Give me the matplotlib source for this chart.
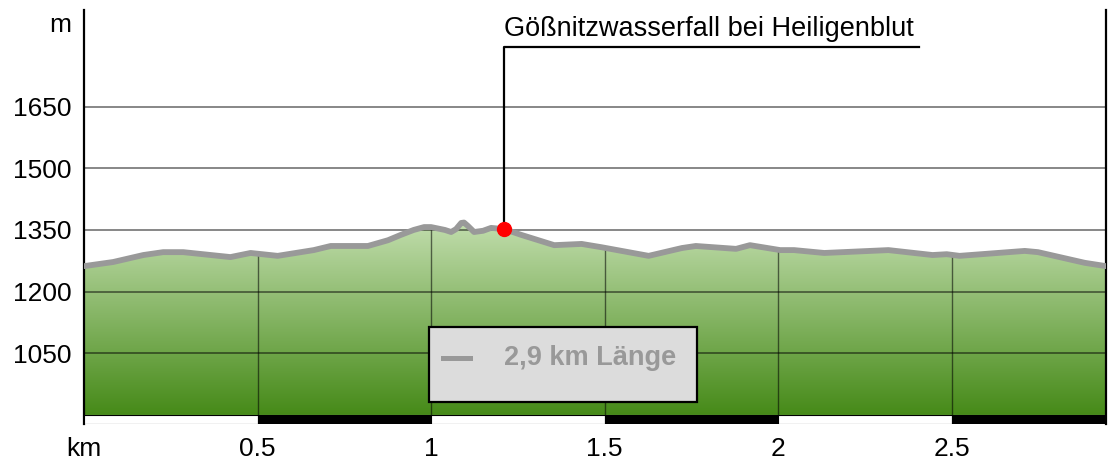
import numpy as np
import matplotlib
matplotlib.use('Agg')
import matplotlib.pyplot as plt
from matplotlib.colors import LinearSegmentedColormap
from matplotlib.patches import Rectangle

plt.rcParams['font.family'] = ['Liberation Sans', 'DejaVu Sans']

# profile (km, m)
dist = [0.0, 0.084, 0.171, 0.228, 0.286, 0.422, 0.480, 0.558, 0.662, 0.711,
        0.818, 0.876, 0.913, 0.950, 0.980, 1.000, 1.040, 1.058, 1.072, 1.087,
        1.095, 1.106, 1.124, 1.150, 1.173, 1.211, 1.260, 1.355, 1.434, 1.491,
        1.627, 1.723, 1.763, 1.879, 1.919, 2.006, 2.046, 2.133, 2.318, 2.445,
        2.486, 2.523, 2.711, 2.749, 2.884, 2.945]
elev = [1262, 1272, 1289, 1296, 1296, 1284, 1294, 1287, 1301, 1311,
        1311, 1325, 1338, 1350, 1357, 1357, 1350, 1345, 1352, 1367,
        1368, 1360, 1345, 1348, 1355, 1352, 1338, 1313, 1316, 1308,
        1287, 1306, 1311, 1304, 1313, 1301, 1301, 1294, 1301, 1289,
        1291, 1287, 1299, 1296, 1270, 1262]

poi_km = 1.211
poi_elev = 1352
poi_name = 'Gößnitzwasserfall bei Heiligenblut'

y_ticks = [1050, 1200, 1350, 1500, 1650]
x_ticks = [0.5, 1.0, 1.5, 2.0, 2.5]
x_labels = ['0.5', '1', '1.5', '2', '2.5']
length_label = '2,9 km Länge'

x_max = 2.945
y_base = 900
y_top = 1885
bar_bottom = 878

fig = plt.figure(figsize=(11.14, 4.63), dpi=100)
ax = fig.add_axes([84 / 1114, 39 / 463, (1106 - 84) / 1114, (424 - 10) / 463])
ax.set_xlim(0, x_max)
ax.set_ylim(bar_bottom, y_top)

# gradient fill under the profile
cmap = LinearSegmentedColormap.from_list('g', ['#468a18', '#c4dfb0'])
grad = np.linspace(0, 1, 256).reshape(-1, 1)
poly = ax.fill_between(dist, elev, y_base, color='none', lw=0)
img = ax.imshow(grad, cmap=cmap, origin='lower', aspect='auto',
                extent=[0, x_max, y_base, max(elev) + 10], zorder=1)
img.set_clip_path(poly.get_paths()[0], transform=ax.transData)

# grid
for y in y_ticks:
    ax.axhline(y, color='black', alpha=0.55, lw=1.2, zorder=2)
for x in x_ticks:
    ax.plot([x, x], [y_base, np.interp(x, dist, elev)], color='black',
            alpha=0.55, lw=1.0, zorder=2)

# profile line
ax.plot(dist, elev, color='#999999', lw=4.2, solid_capstyle='round',
        solid_joinstyle='round', zorder=3)

# scale bar
edges = [0] + x_ticks + [x_max]
for i in range(len(edges) - 1):
    ax.add_patch(Rectangle((edges[i], bar_bottom), edges[i + 1] - edges[i],
                           y_base - bar_bottom,
                           facecolor='white' if i % 2 == 0 else 'black',
                           edgecolor='black', lw=0.8, zorder=4))

# point of interest
ax.plot([poi_km, poi_km, 2.407], [poi_elev, 1795, 1795], color='black',
        lw=1.6, zorder=4)
ax.plot(poi_km, poi_elev, 'o', color='red', ms=10, zorder=5)
ax.text(poi_km, 1806, poi_name, fontsize=19.5, ha='left', va='bottom')

# length box
ax.add_patch(Rectangle((0.994, 931), 0.772, 183, facecolor='#dcdcdc',
                       edgecolor='black', lw=1.6, zorder=6))
ax.plot([1.034, 1.112], [1038, 1038], color='#999999', lw=3.6, zorder=7)
ax.text(1.211, 1038, length_label, fontsize=19.5, fontweight='bold',
        color='#999999', ha='left', va='center', zorder=7)

# axes
ax.set_xticks([0] + x_ticks)
ax.set_xticklabels(['km'] + x_labels)
ax.set_yticks(y_ticks + [1855])
ax.set_yticklabels([str(v) for v in y_ticks] + ['m'])
ax.tick_params(length=0, labelsize=19)
ax.tick_params(axis='x', pad=9)
ax.tick_params(axis='y', pad=9)
ax.spines['top'].set_visible(False)
ax.spines['bottom'].set_visible(False)
ax.spines['left'].set_linewidth(1.6)
ax.spines['right'].set_linewidth(1.6)

fig.savefig('out.png', dpi=100)
